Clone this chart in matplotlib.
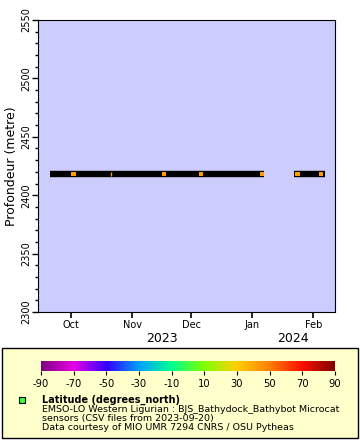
import numpy as np
import matplotlib
matplotlib.use("Agg")
import matplotlib.pyplot as plt
from matplotlib.colors import LinearSegmentedColormap, Normalize
from matplotlib.patches import Rectangle
from matplotlib.lines import Line2D

# data
segment_times = ["2023-09-20", "2024-01-07", "2024-01-22", "2024-02-07"]
segment_depth = [2418, 2418, 2418, 2418]
marker_times = ["2023-10-02", "2023-11-17", "2023-12-06", "2024-01-06", "2024-01-24", "2024-02-05"]
marker_depth = [2418, 2418, 2418, 2418, 2418, 2418]
marker_lat = [43.0, 43.0, 43.0, 43.0, 43.0, 43.0]
thin_marker_time = ["2023-10-21"]
cbar_ticks = [-90, -70, -50, -30, -10, 10, 30, 50, 70, 90]
month_ticks = ["2023-10-01", "2023-11-01", "2023-12-01", "2024-01-01", "2024-02-01"]
month_labels = ["Oct", "Nov", "Dec", "Jan", "Feb"]
legend_lines = [
    "EMSO-LO Western Ligurian : BJS_Bathydock_Bathybot Microcat",
    "sensors (CSV files from 2023-09-20)",
    "Data courtesy of MIO UMR 7294 CNRS / OSU Pytheas",
]

rainbow = LinearSegmentedColormap.from_list("erddap_rainbow", [
    "#800080", "#e600e6", "#3300ff", "#00a0ff", "#00ff90",
    "#80ff00", "#ffd000", "#ff8000", "#ff1000", "#800000"])
norm = Normalize(-90, 90)

plt.rcParams["font.family"] = "DejaVu Sans"
fig = plt.figure(figsize=(3.6, 4.4), dpi=100)

ax = fig.add_axes([38 / 360, 1 - 312 / 440, 297 / 360, 292 / 440])
ax.set_facecolor("#ccccff")

t = [np.datetime64(s) for s in segment_times]
ax.plot(t[:2], segment_depth[:2], color="black", lw=4.6, solid_capstyle="butt")
ax.plot(t[2:], segment_depth[2:], color="black", lw=4.6, solid_capstyle="butt")
mt = [np.datetime64(s) for s in marker_times]
ax.scatter(mt, marker_depth, c=marker_lat, cmap=rainbow, norm=norm, marker="s", s=10, linewidths=0, zorder=3)
ax.scatter([np.datetime64(s) for s in thin_marker_time], [2418], color=rainbow(norm(43)),
           marker="|", s=12, linewidths=1, zorder=3)

ax.set_xlim(np.datetime64("2023-09-14"), np.datetime64("2024-02-12"))
ax.set_ylim(2300, 2550)
ax.set_xticks([np.datetime64(s) for s in month_ticks])
ax.set_xticklabels(month_labels, fontsize=7)
ax.set_yticks(np.arange(2300, 2551, 50))
ax.set_yticks(np.arange(2300, 2551, 10), minor=True)
ax.tick_params(axis="y", labelsize=7, labelrotation=90, length=4, width=1, pad=1)
ax.tick_params(axis="y", which="minor", length=2.5, width=1)
ax.tick_params(axis="x", length=4, width=1.2, pad=2)
for lbl in ax.get_yticklabels():
    lbl.set_va("center")
ax.set_ylabel("Profondeur (metre)", fontsize=9, labelpad=2)

fig.text(162 / 360, 1 - 338 / 440, "2023", fontsize=9, ha="center", va="center")
fig.text(293 / 360, 1 - 338 / 440, "2024", fontsize=9, ha="center", va="center")

# legend box
fig.patches.append(Rectangle((2 / 360, 2 / 440), 356 / 360, 90 / 440, transform=fig.transFigure,
                             facecolor="#ffffcc", edgecolor="black", lw=1, zorder=-1))
cax = fig.add_axes([41 / 360, 1 - 371 / 440, 294 / 360, 10 / 440])
cax.set_zorder(2)
grad = np.linspace(-90, 90, 256).reshape(1, -1)
cax.imshow(grad, aspect="auto", cmap=rainbow, norm=norm, extent=[-90, 90, 0, 1])
cax.set_yticks([])
cax.set_xticks(cbar_ticks)
cax.set_xticklabels([str(v) for v in cbar_ticks], fontsize=7.2)
cax.tick_params(axis="x", length=3, pad=3)
for s in cax.spines.values():
    s.set_visible(False)

fig.add_artist(Line2D([22 / 360], [1 - 400 / 440], marker="s", markersize=5, color="#33ff33",
                      markeredgecolor="black", markeredgewidth=0.8, transform=fig.transFigure))
fig.text(42 / 360, 1 - 400 / 440, "Latitude (degrees_north)", fontsize=7, fontweight="bold", va="center")
for i, line in enumerate(legend_lines):
    fig.text(42 / 360, 1 - (409 + 9 * i) / 440, line, fontsize=6.8, va="center")

fig.savefig("out.png", dpi=100)
